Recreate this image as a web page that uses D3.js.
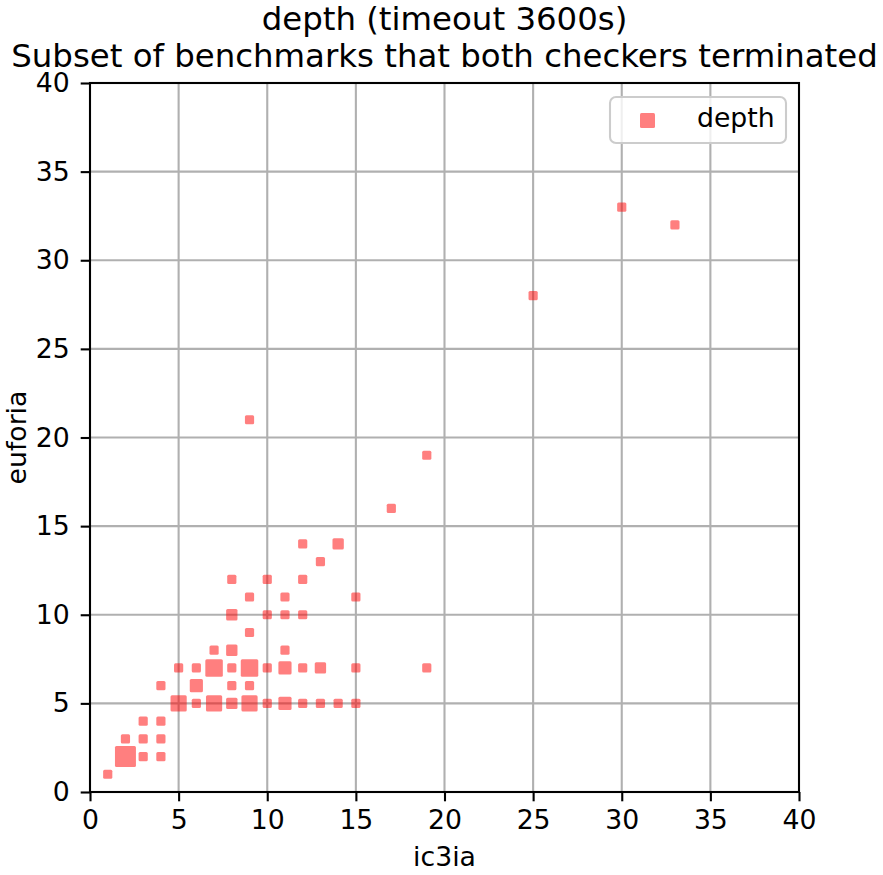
<!DOCTYPE html>
<html>
<head>
<meta charset="utf-8">
<script src="https://cdn.jsdelivr.net/npm/d3@7"></script>
<style>
  body { margin: 0; background: #fff; }
  text { font-family: "DejaVu Sans", sans-serif; fill: #000; }
</style>
</head>
<body>
<div id="chart"></div>
<script>
// depth reached by each checker, one entry per distinct (ic3ia, euforia) pair
var ic3ia   = [1, 2, 2, 3, 3, 3, 4, 4, 4, 4, 5, 5, 6, 6, 6, 7, 7, 7,
               8, 8, 8, 8, 8, 8, 9, 9, 9, 9, 9, 9, 10, 10, 10, 10,
               11, 11, 11, 11, 11, 12, 12, 12, 12, 12, 13, 13, 13, 14, 14,
               15, 15, 15, 17, 19, 19, 25, 30, 33];
var euforia = [1, 2, 3, 2, 3, 4, 2, 3, 4, 6, 5, 7, 5, 6, 7, 5, 7, 8,
               5, 6, 7, 8, 10, 12, 5, 6, 7, 9, 11, 21, 5, 7, 10, 12,
               5, 7, 8, 10, 11, 5, 7, 10, 12, 14, 5, 7, 13, 5, 14,
               5, 7, 11, 16, 7, 19, 28, 33, 32];
// number of benchmarks sitting on each point (marker size)
var counts  = [1, 9, 1, 1, 1, 1, 1, 1, 1, 1, 5, 1, 1, 3, 1, 5, 6, 1,
               2, 1, 1, 2, 2, 1, 5, 1, 6, 1, 1, 1, 1, 1, 1, 1,
               3, 3, 1, 1, 1, 1, 1, 1, 1, 1, 1, 2, 1, 1, 2,
               1, 1, 1, 1, 1, 1, 1, 1, 1];
var tickValues = [0, 5, 10, 15, 20, 25, 30, 35, 40];
var titleLines = ["depth (timeout 3600s)", "Subset of benchmarks that both checkers terminated"];

var w = 883, h = 875;
var margin = {left: 90, right: 84, top: 83, bottom: 83};

var svg = d3.select("#chart").append("svg")
            .attr("width", w)
            .attr("height", h);

var x = d3.scaleLinear().domain([0, 40]).range([margin.left, w - margin.right]);
var y = d3.scaleLinear().domain([0, 40]).range([h - margin.bottom, margin.top]);
var area = d3.scaleLinear().domain([0, 9]).range([40, 440]);

var fontSize = 26.7;

// grid
var grid = svg.append("g");
grid.selectAll(".gx").data(tickValues.slice(1, -1)).enter().append("line")
    .attr("x1", d => x(d)).attr("x2", d => x(d))
    .attr("y1", y(0)).attr("y2", y(40))
    .attr("stroke", "#b0b0b0").attr("stroke-width", 2.1);
grid.selectAll(".gy").data(tickValues.slice(1, -1)).enter().append("line")
    .attr("y1", d => y(d)).attr("y2", d => y(d))
    .attr("x1", x(0)).attr("x2", x(40))
    .attr("stroke", "#b0b0b0").attr("stroke-width", 2.1);

// points
var pts = d3.range(ic3ia.length).map(i => ({x: ic3ia[i], y: euforia[i], n: counts[i]}));
svg.append("g").selectAll("rect").data(pts).enter().append("rect")
    .attr("x", d => x(d.x) - Math.sqrt(area(d.n)) / 2)
    .attr("y", d => y(d.y) - Math.sqrt(area(d.n)) / 2)
    .attr("width", d => Math.sqrt(area(d.n)))
    .attr("height", d => Math.sqrt(area(d.n)))
    .attr("rx", 1.5)
    .attr("fill", "red")
    .attr("fill-opacity", 0.5);

// axes
var xAxis = d3.axisBottom(x).tickValues(tickValues).tickSize(9.3).tickPadding(9);
var yAxis = d3.axisLeft(y).tickValues(tickValues).tickSize(9.3).tickPadding(11);

var gx = svg.append("g").attr("transform", "translate(0," + y(0) + ")").call(xAxis);
var gy = svg.append("g").attr("transform", "translate(" + x(0) + ",0)").call(yAxis);
[gx, gy].forEach(function(g) {
    g.select(".domain").remove();
    g.selectAll(".tick line").attr("stroke", "#000").attr("stroke-width", 2.1);
    g.selectAll(".tick text").attr("font-size", fontSize).attr("font-family", "DejaVu Sans");
});

// frame
svg.append("rect")
    .attr("x", x(0)).attr("y", y(40))
    .attr("width", x(40) - x(0)).attr("height", y(0) - y(40))
    .attr("fill", "none").attr("stroke", "#000").attr("stroke-width", 2.1);

// labels
svg.append("text")
    .attr("x", (x(0) + x(40)) / 2).attr("y", 866)
    .attr("text-anchor", "middle").attr("font-size", fontSize)
    .text("ic3ia");
svg.append("text")
    .attr("transform", "translate(26," + (y(0) + y(40)) / 2 + ") rotate(-90)")
    .attr("text-anchor", "middle").attr("font-size", fontSize)
    .text("euforia");

svg.append("g").selectAll("text").data(titleLines).enter().append("text")
    .attr("x", (x(0) + x(40)) / 2)
    .attr("y", (d, i) => 30 + i * 37)
    .attr("text-anchor", "middle").attr("font-size", 32.4)
    .text(d => d);

// legend
var lg = svg.append("g");
lg.append("rect")
    .attr("x", 610).attr("y", 97).attr("width", 176).attr("height", 46)
    .attr("rx", 6)
    .attr("fill", "#fff").attr("fill-opacity", 0.8)
    .attr("stroke", "#cccccc").attr("stroke-width", 2.1);
lg.append("rect")
    .attr("x", 640).attr("y", 113).attr("width", 15).attr("height", 15)
    .attr("rx", 1.5)
    .attr("fill", "red").attr("fill-opacity", 0.5);
lg.append("text")
    .attr("x", 697).attr("y", 127)
    .attr("font-size", fontSize)
    .text("depth");
</script>
</body>
</html>
